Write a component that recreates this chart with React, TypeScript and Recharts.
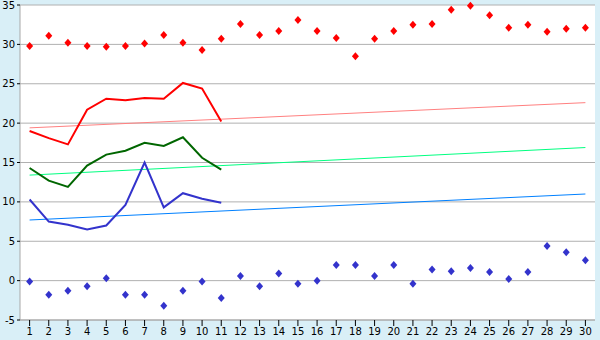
import { ComposedChart, Line, XAxis, YAxis, CartesianGrid } from 'recharts'

const days = Array.from({ length: 30 }, (_, i) => i + 1)

const maxTemp = [
  29.8, 31.1, 30.2, 29.8, 29.7, 29.8, 30.1, 31.2, 30.2, 29.3,
  30.7, 32.6, 31.2, 31.7, 33.1, 31.7, 30.8, 28.5, 30.7, 31.7,
  32.5, 32.6, 34.4, 34.9, 33.7, 32.1, 32.5, 31.6, 32.0, 32.1,
]
const minTemp = [
  -0.1, -1.8, -1.3, -0.7, 0.3, -1.8, -1.8, -3.2, -1.3, -0.1,
  -2.2, 0.6, -0.7, 0.9, -0.4, 0.0, 2.0, 2.0, 0.6, 2.0,
  -0.4, 1.4, 1.2, 1.6, 1.1, 0.2, 1.1, 4.4, 3.6, 2.6,
]
const highLine = [19.0, 18.1, 17.3, 21.7, 23.1, 22.9, 23.2, 23.1, 25.1, 24.4, 20.2]
const meanLine = [14.3, 12.7, 11.9, 14.6, 16.0, 16.5, 17.5, 17.1, 18.2, 15.6, 14.1]
const lowLine = [10.3, 7.5, 7.1, 6.5, 7.0, 9.6, 15.0, 9.3, 11.1, 10.4, 9.9]
// trend lines: value on day 1 and day 30
const highTrend = [19.4, 22.6]
const meanTrend = [13.4, 16.9]
const lowTrend = [7.7, 11.0]
const yTicks = [-5, 0, 5, 10, 15, 20, 25, 30, 35]

const ends = (pair: number[], i: number) =>
  i === 0 ? pair[0] : i === days.length - 1 ? pair[1] : null

const data = days.map((d, i) => ({
  day: d,
  max: maxTemp[i],
  min: minTemp[i],
  high: highLine[i] ?? null,
  mean: meanLine[i] ?? null,
  low: lowLine[i] ?? null,
  highT: ends(highTrend, i),
  meanT: ends(meanTrend, i),
  lowT: ends(lowTrend, i),
}))

const Diamond = (color: string) => (props: any) => {
  const { cx, cy } = props
  if (cx == null || cy == null) return null
  return (
    <polygon
      points={`${cx},${cy - 4} ${cx + 3.5},${cy} ${cx},${cy + 4} ${cx - 3.5},${cy}`}
      fill={color}
    />
  )
}

const font = { fontSize: 10, fill: '#000', fontFamily: 'DejaVu Sans, Verdana, sans-serif' }

export default function App() {
  return (
    <div style={{ position: 'absolute', left: 0, top: 0, background: '#d9eff7' }}>
      <ComposedChart
        width={600}
        height={340}
        data={data}
        margin={{ top: 5, right: 5, left: 0, bottom: 0 }}
      >
        <CartesianGrid vertical={false} stroke="#b0b0b0" fill="#fff" />
        <XAxis
          dataKey="day"
          height={20}
          tick={font}
          tickSize={6}
          interval={0}
          padding={{ left: 9.6, right: 9.6 }}
          axisLine={{ stroke: '#a8a8a8' }}
          tickLine={{ stroke: '#000' }}
        />
        <YAxis
          width={20}
          domain={[-5, 35]}
          ticks={yTicks}
          tick={font}
          tickSize={3}
          interval={0}
          axisLine={{ stroke: '#a8a8a8' }}
          tickLine={{ stroke: '#000' }}
        />
        <YAxis
          yAxisId="right"
          orientation="right"
          width={0}
          domain={[-5, 35]}
          tick={false}
          tickLine={false}
          axisLine={{ stroke: '#a8a8a8' }}
        />
        <Line dataKey="highT" stroke="#ff8080" strokeWidth={1} dot={false} connectNulls isAnimationActive={false} />
        <Line dataKey="meanT" stroke="#00ff80" strokeWidth={1} dot={false} connectNulls isAnimationActive={false} />
        <Line dataKey="lowT" stroke="#0080ff" strokeWidth={1} dot={false} connectNulls isAnimationActive={false} />
        <Line dataKey="high" stroke="#ff0000" strokeWidth={2} dot={false} isAnimationActive={false} />
        <Line dataKey="mean" stroke="#006600" strokeWidth={2} dot={false} isAnimationActive={false} />
        <Line dataKey="low" stroke="#3333cc" strokeWidth={2} dot={false} isAnimationActive={false} />
        <Line dataKey="max" stroke="none" dot={Diamond('#ff0000')} activeDot={false} isAnimationActive={false} />
        <Line dataKey="min" stroke="none" dot={Diamond('#3333cc')} activeDot={false} isAnimationActive={false} />
      </ComposedChart>
    </div>
  )
}
